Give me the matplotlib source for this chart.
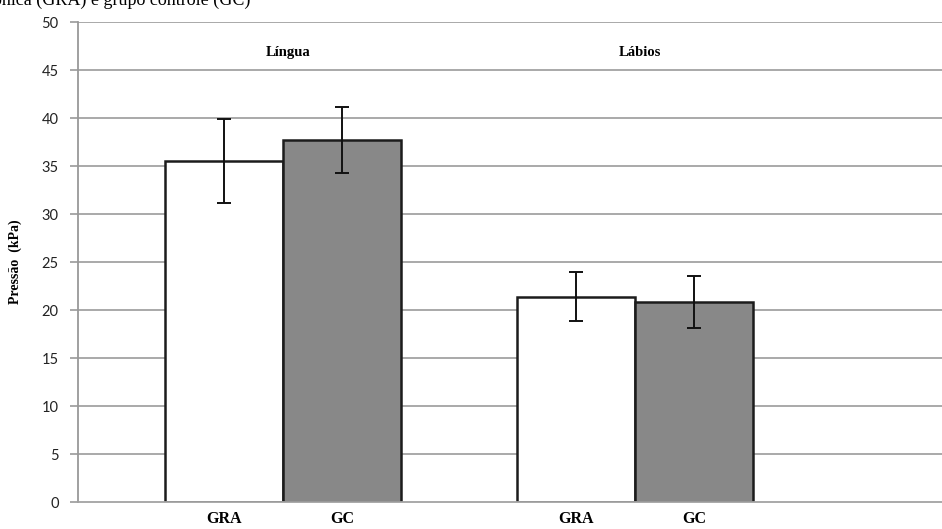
import numpy as np
import matplotlib.pyplot as plt

# pressure (kPa) by region and group
regions = ['Língua', 'Lábios']
groups = ['GRA', 'GC']
gra_mean = [35.5, 21.4]
gc_mean = [37.7, 20.8]
gra_sd = [4.35, 2.55]
gc_sd = [3.4, 2.7]

yticks = list(range(0, 51, 5))

centers = np.array([0.0, 2.98])
bar_w = 1.0

fig = plt.figure(figsize=(9.42, 5.29), dpi=100)
ax = fig.add_axes([78 / 942, 27 / 529, 1 - 78 / 942, 480 / 529])

grid_c = '#a3a3a3'
for y in yticks[1:]:
    ax.axhline(y, color=grid_c, lw=1.3, zorder=0)

ax.bar(centers - bar_w / 2, gra_mean, width=bar_w, color='white',
       edgecolor='#1c1c1c', linewidth=1.8, zorder=2)
ax.bar(centers + bar_w / 2, gc_mean, width=bar_w, color='#888888',
       edgecolor='#1c1c1c', linewidth=1.8, zorder=2)

ax.errorbar(centers - bar_w / 2, gra_mean, yerr=gra_sd, fmt='none',
            ecolor='#111111', elinewidth=1.4, capsize=5, capthick=1.4, zorder=3)
ax.errorbar(centers + bar_w / 2, gc_mean, yerr=gc_sd, fmt='none',
            ecolor='#111111', elinewidth=1.4, capsize=5, capthick=1.4, zorder=3)

ax.set_xlim(-1.74, 5.58)
ax.set_ylim(0, 50)
ax.set_yticks(yticks)
ax.set_yticklabels([str(v) for v in yticks], fontsize=10.5, family='Lato',
                   color='#222222')
ax.tick_params(axis='y', length=6, width=1.2, color='#999999', pad=8)
ax.set_xticks([])

for s in ['top', 'right']:
    ax.spines[s].set_visible(False)
ax.spines['left'].set_color('#999999')
ax.spines['left'].set_linewidth(1.3)
ax.spines['bottom'].set_color(grid_c)
ax.spines['bottom'].set_linewidth(1.3)

serif = 'Liberation Serif'
for c, name in zip(centers, regions):
    ax.text(c + 0.04, 46.8, name, ha='center', va='center', fontsize=10.5,
            fontweight='bold', family=serif)

for c in centers:
    for off, g in zip([-bar_w / 2, bar_w / 2], groups):
        ax.text(c + off, -1.8, g, ha='center', va='center', fontsize=11.5,
                fontweight='bold', family=serif, clip_on=False)

ax.set_ylabel('Pressão  (kPa)', fontsize=10, fontweight='bold', family=serif,
              labelpad=14)

fig.text(250 / 942, 1 - 5 / 529, 'crônica (GRA) e grupo controle (GC)',
         ha='right', va='baseline', fontsize=13, family=serif)

fig.savefig('out.png', dpi=100)
